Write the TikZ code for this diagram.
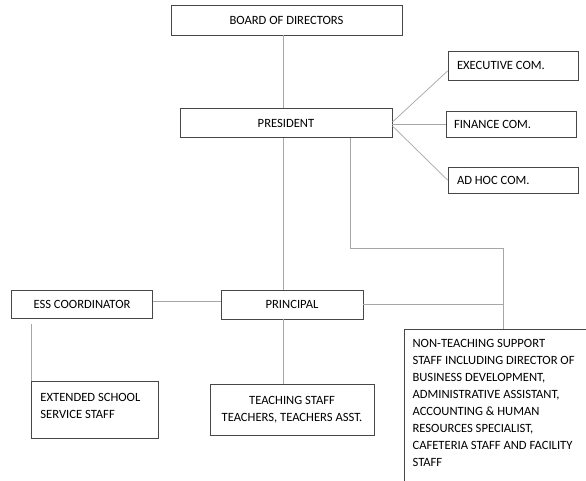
\documentclass[tikz,border=0pt]{standalone}
\usepackage{fontspec}
\setmainfont{Carlito}
\newcommand{\lbox}[2]{\makebox[#1][l]{#2}}
\begin{document}
\begin{tikzpicture}[x=1pt,y=-1pt,
  box/.style={draw=black!72, line width=0.9pt, inner sep=0pt, font=\fontsize{12.6}{17}\selectfont},
  com/.style={box, inner xsep=9pt},
  conn/.style={draw=black!35, line width=0.7pt}]
\useasboundingbox[fill=white] (0,0) rectangle (586,480);
\node[box, minimum width=231, minimum height=30] (board) at (286.5,20) {BOARD OF DIRECTORS};
\node[box, minimum width=212, minimum height=29] (pres) at (286,123) {PRESIDENT};
\node[com, minimum height=29] (exec) at (513,65.5) {\lbox{112pt}{EXECUTIVE COM.}};
\node[com, minimum height=26, inner xsep=8pt] (fin) at (511,124) {\lbox{114pt}{FINANCE COM.}};
\node[com, minimum height=26] (adhoc) at (513,180) {\lbox{112pt}{AD HOC COM.}};
\node[box, minimum width=141, minimum height=28] (ess) at (82,304) {ESS COORDINATOR};
\node[box, minimum width=142, minimum height=29] (prin) at (292,304.5) {PRINCIPAL};
\node[box, anchor=north west, inner xsep=9, inner ysep=0] (ext) at (31,381)
  {\parbox[t][57pt][t]{109pt}{\raggedright\rule{0pt}{20pt}EXTENDED SCHOOL\\SERVICE STAFF}};
\node[box, minimum width=164, minimum height=51, align=center] (teach) at (292,409.5) {TEACHING STAFF\\TEACHERS, TEACHERS ASST.};
\node[box, anchor=north west, inner xsep=8.5, inner ysep=0] (nts) at (403.6,329)
  {\parbox[t][170pt][t]{190pt}{\raggedright\rule{0pt}{18.5pt}NON-TEACHING SUPPORT\\STAFF INCLUDING DIRECTOR OF\\BUSINESS DEVELOPMENT,\\ADMINISTRATIVE ASSISTANT,\\ACCOUNTING \& HUMAN\\RESOURCES SPECIALIST,\\CAFETERIA STAFF AND FACILITY\\STAFF}};
\coordinate (j) at (503,248);
\draw[conn] ([xshift=-3.5pt]board.south) -- ([xshift=-3.5pt]board.south |- pres.north);
\draw[conn] ([yshift=1pt]pres.east) -- ([yshift=-5.5pt]exec.west);
\draw[conn] ([yshift=-1pt]pres.east) -- (fin.west);
\draw[conn] ([yshift=-3pt]pres.east) -- (adhoc.west);
\draw[conn] ([xshift=-3pt]pres.south) -- ([xshift=-3pt]pres.south |- prin.north);
\draw[conn] ([xshift=64pt]pres.south) |- (j) -- (j |- nts.north);
\draw[conn] (prin.east) -- (prin.east -| j);
\draw[conn] ([yshift=3pt]ess.east) -- ([yshift=3pt]ess.east -| prin.west);
\draw[conn] ([yshift=-6pt]ess.south -| ext.north west) -- (ext.north west);
\draw[conn] ([xshift=-9pt]prin.south) -- ([xshift=-9pt]prin.south |- teach.north);
\end{tikzpicture}
\end{document}
